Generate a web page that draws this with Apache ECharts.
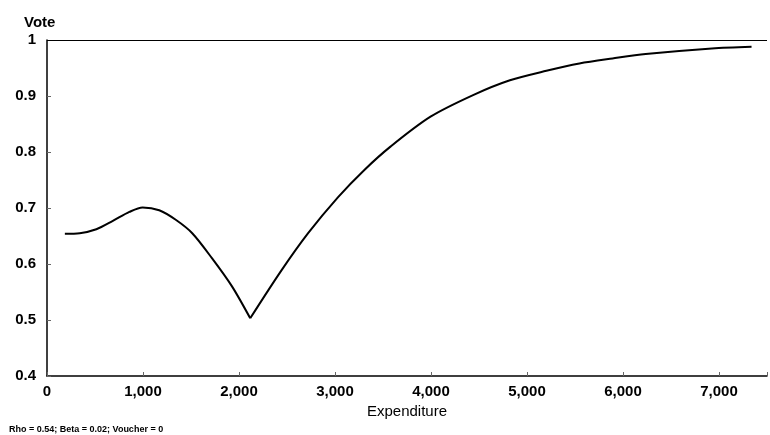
<!DOCTYPE html>
<html>
<head>
<meta charset="utf-8">
<script src="https://cdn.jsdelivr.net/npm/echarts@6/dist/echarts.min.js"></script>
<style>html,body{margin:0;padding:0;background:#fff}#c{width:770px;height:435px}</style>
</head>
<body>
<div id="c"></div>
<script>
const expenditure = [186, 341, 514, 686, 858, 996, 1169, 1341, 1513, 1720, 1927, 2117, 2444, 2720, 3030, 3306, 3581, 3995, 4444, 4822, 5202, 5546, 5891, 6236, 6926, 7339];
const vote = [0.654, 0.655, 0.662, 0.677, 0.693, 0.701, 0.696, 0.679, 0.655, 0.610, 0.560, 0.503, 0.589, 0.655, 0.719, 0.768, 0.810, 0.863, 0.902, 0.928, 0.945, 0.958, 0.967, 0.975, 0.985, 0.988];
const dipIndex = 11;
const xTicks = [0, 1000, 2000, 3000, 4000, 5000, 6000, 7000];
const yTicks = [0.4, 0.5, 0.6, 0.7, 0.8, 0.9, 1];

const pts = expenditure.map((x, i) => [x, vote[i]]);
const chart = echarts.init(document.getElementById('c'));
const font = 'Liberation Sans, Arial, sans-serif';
const lineSeries = (data) => ({
  type: 'line', data, smooth: 0.3, showSymbol: false,
  lineStyle: { color: '#000', width: 2 }
});
const left = lineSeries(pts.slice(0, dipIndex + 1));
const right = lineSeries(pts.slice(dipIndex));
left.markLine = {
  silent: true, symbol: 'none', label: { show: false },
  lineStyle: { color: '#000', width: 1.2, type: 'solid' },
  data: [{ yAxis: 1 }]
};
chart.setOption({
  animation: false,
  backgroundColor: '#fff',
  grid: { left: 47, right: 0, top: 40, bottom: 59 },
  title: [
    { text: 'Vote', left: 19, top: 10, textStyle: { fontFamily: font, fontSize: 15, fontWeight: 'bold', color: '#000' } },
    { text: 'Rho = 0.54; Beta = 0.02; Voucher = 0', left: 4, top: 420, textStyle: { fontFamily: font, fontSize: 9, fontWeight: 'bold', color: '#000' } }
  ],
  xAxis: {
    type: 'value', min: 0, max: 7500, interval: 1000,
    name: 'Expenditure', nameLocation: 'middle', nameGap: 27,
    nameTextStyle: { fontFamily: font, fontSize: 15, color: '#000' },
    axisLine: { lineStyle: { color: '#000', width: 1.5 } },
    axisTick: { show: true, inside: true, length: 4, lineStyle: { color: '#666' } },
    splitLine: { show: false },
    axisLabel: { fontFamily: font, fontSize: 15, fontWeight: 'bold', color: '#000', margin: 8,
      formatter: v => xTicks.includes(v) ? v.toLocaleString('en-US') : '' }
  },
  yAxis: {
    type: 'value', min: 0.4, max: 1, interval: 0.1,
    axisLine: { show: true, lineStyle: { color: '#000', width: 1.5 } },
    axisTick: { show: true, inside: true, length: 4, lineStyle: { color: '#666' } },
    splitLine: { show: false },
    axisLabel: { fontFamily: font, fontSize: 15, fontWeight: 'bold', color: '#000', margin: 11,
      formatter: v => { const t = yTicks.find(y => Math.abs(y - v) < 1e-6); return t === undefined ? '' : (t === 1 ? '1' : t.toFixed(1)); } }
  },
  series: [left, right]
});
</script>
</body>
</html>
